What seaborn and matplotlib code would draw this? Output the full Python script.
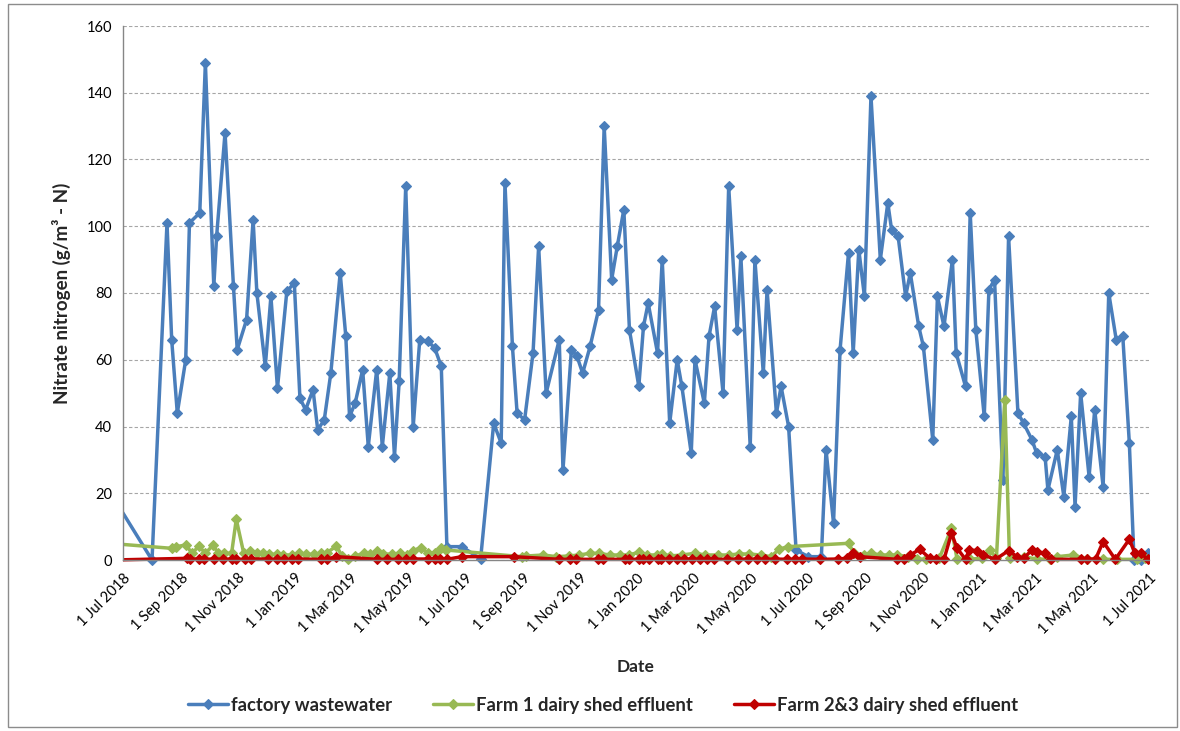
import pandas as pd
import matplotlib
matplotlib.use("Agg")
import matplotlib.pyplot as plt
from matplotlib.patches import Rectangle
import seaborn as sns

# sampling dates and nitrate values (g/m3 - N)
factory_dates = [
    "2018-06-19", "2018-08-01", "2018-08-17", "2018-08-22", "2018-08-28", "2018-09-06", "2018-09-10",
    "2018-09-21", "2018-09-27", "2018-10-06", "2018-10-09", "2018-10-18", "2018-10-27", "2018-10-31",
    "2018-11-10", "2018-11-17", "2018-11-21", "2018-11-30", "2018-12-06", "2018-12-13", "2018-12-23",
    "2018-12-31", "2019-01-06", "2019-01-12", "2019-01-20", "2019-01-25", "2019-02-01", "2019-02-08",
    "2019-02-18", "2019-02-24", "2019-02-28", "2019-03-06", "2019-03-14", "2019-03-20", "2019-03-29",
    "2019-04-04", "2019-04-12", "2019-04-17", "2019-04-22", "2019-04-29", "2019-05-07", "2019-05-14",
    "2019-05-23", "2019-05-30", "2019-06-06", "2019-06-12", "2019-06-28", "2019-07-18", "2019-08-01",
    "2019-08-09", "2019-08-13", "2019-08-21", "2019-08-26", "2019-09-03", "2019-09-12", "2019-09-18",
    "2019-09-26", "2019-10-10", "2019-10-14", "2019-10-23", "2019-10-29", "2019-11-04", "2019-11-12",
    "2019-11-21", "2019-11-27", "2019-12-05", "2019-12-11", "2019-12-18", "2019-12-24", "2020-01-03",
    "2020-01-08", "2020-01-13", "2020-01-23", "2020-01-28", "2020-02-05", "2020-02-13", "2020-02-18",
    "2020-02-28", "2020-03-03", "2020-03-13", "2020-03-18", "2020-03-24", "2020-04-02", "2020-04-08",
    "2020-04-17", "2020-04-21", "2020-05-01", "2020-05-06", "2020-05-15", "2020-05-19", "2020-05-29",
    "2020-06-03", "2020-06-11", "2020-06-19", "2020-07-02", "2020-07-16", "2020-07-21", "2020-07-29",
    "2020-08-05", "2020-08-14", "2020-08-19", "2020-08-25", "2020-08-31", "2020-09-07", "2020-09-17",
    "2020-09-25", "2020-09-29", "2020-10-06", "2020-10-14", "2020-10-19", "2020-10-28", "2020-11-02",
    "2020-11-12", "2020-11-17", "2020-11-24", "2020-12-03", "2020-12-07", "2020-12-17", "2020-12-22",
    "2020-12-28", "2021-01-06", "2021-01-11", "2021-01-17", "2021-01-26", "2021-02-01", "2021-02-11",
    "2021-02-17", "2021-02-26", "2021-03-03", "2021-03-12", "2021-03-15", "2021-03-25", "2021-04-01",
    "2021-04-09", "2021-04-13", "2021-04-19", "2021-04-28", "2021-05-04", "2021-05-13", "2021-05-19",
    "2021-05-27", "2021-06-03", "2021-06-10", "2021-06-15", "2021-06-22", "2021-06-30",
]
factory_values = [
    19.5, 0, 101, 66, 44, 60, 101,
    104, 149, 82, 97, 128, 82, 63,
    72, 102, 80, 58, 79, 51.5, 80.5,
    83, 48.5, 45, 51, 39, 42, 56,
    86, 67, 43, 47, 57, 34, 57,
    34, 56, 31, 53.5, 112, 40, 66,
    65.5, 63.5, 58, 4, 4, 0.3, 41,
    35, 113, 64, 44, 42, 62, 94,
    50, 66, 27, 63, 61, 56, 64,
    75, 130, 84, 94, 105, 69, 52,
    70, 77, 62, 90, 41, 60, 52,
    32, 60, 47, 67, 76, 50, 112,
    69, 91, 34, 90, 56, 81, 44,
    52, 40, 3, 1, 1, 33, 11,
    63, 92, 62, 93, 79, 139, 90,
    107, 99, 97, 79, 86, 70, 64,
    36, 79, 70, 90, 62, 52, 104,
    69, 43, 81, 84, 24, 97, 44,
    41, 36, 32, 31, 21, 33, 19,
    43, 16, 50, 25, 45, 22, 80,
    66, 67, 35, 0, 0, 2,
]

farm1_dates = [
    "2018-06-16", "2018-08-22", "2018-08-27", "2018-09-06", "2018-09-13", "2018-09-20", "2018-09-27",
    "2018-10-05", "2018-10-11", "2018-10-17", "2018-10-25", "2018-10-30", "2018-11-07", "2018-11-14",
    "2018-11-21", "2018-11-28", "2018-12-04", "2018-12-12", "2018-12-19", "2018-12-28", "2019-01-05",
    "2019-01-13", "2019-01-21", "2019-01-28", "2019-02-04", "2019-02-14", "2019-02-20", "2019-02-26",
    "2019-03-06", "2019-03-15", "2019-03-22", "2019-03-29", "2019-04-05", "2019-04-14", "2019-04-23",
    "2019-04-30", "2019-05-07", "2019-05-15", "2019-05-23", "2019-05-30", "2019-06-06", "2019-06-11",
    "2019-08-31", "2019-09-05", "2019-09-23", "2019-10-07", "2019-10-20", "2019-10-31", "2019-11-12",
    "2019-11-21", "2019-12-03", "2019-12-14", "2019-12-23", "2020-01-03", "2020-01-12", "2020-01-22",
    "2020-01-28", "2020-02-05", "2020-02-18", "2020-03-03", "2020-03-14", "2020-03-28", "2020-04-08",
    "2020-04-19", "2020-04-30", "2020-05-12", "2020-05-23", "2020-06-01", "2020-06-10", "2020-08-14",
    "2020-08-20", "2020-08-31", "2020-09-07", "2020-09-17", "2020-09-26", "2020-10-05", "2020-10-17",
    "2020-10-26", "2020-11-05", "2020-11-19", "2020-12-02", "2020-12-08", "2020-12-22", "2021-01-04",
    "2021-01-12", "2021-01-19", "2021-01-28", "2021-02-02", "2021-02-17", "2021-03-03", "2021-03-17",
    "2021-03-25", "2021-04-11", "2021-04-26", "2021-05-13", "2021-05-28", "2021-06-18", "2021-06-27",
]
farm1_values = [
    5.0, 3.5, 4.0, 4.5, 2.0, 4.2, 2.0,
    4.4, 2.0, 2.0, 2.0, 12.2, 2.0, 2.8,
    2.0, 2.2, 1.7, 1.7, 1.5, 1.5, 2.0,
    1.7, 1.7, 2.0, 2.2, 4.2, 1.2, 0.2,
    1.2, 2.0, 1.7, 2.7, 1.7, 1.8, 2.0,
    1.5, 2.8, 3.7, 2.0, 2.2, 3.5, 3.0,
    1.0, 1.2, 1.5, 1.0, 1.2, 1.5, 2.0,
    2.0, 1.5, 1.5, 1.5, 2.3, 1.5, 1.5,
    1.8, 1.2, 1.5, 2.0, 1.5, 1.5, 1.5,
    1.8, 1.8, 1.5, 1.0, 3.2, 4.0, 5.0,
    2.0, 1.5, 2.0, 1.5, 1.5, 1.5, 1.0,
    0.2, 0.3, 0.5, 9.5, 0.2, 0.3, 0.5,
    3.0, 0.5, 48, 0.5, 1.0, 0.3, 0.2,
    1.0, 1.5, 0.3, 0.2, 0.2, 0.2, 0.5,
]

farm23_dates = [
    "2018-06-21", "2018-09-07", "2018-09-11", "2018-09-20", "2018-09-26", "2018-10-06", "2018-10-16",
    "2018-10-25", "2018-10-30", "2018-11-08", "2018-11-15", "2018-12-03", "2018-12-12", "2018-12-20",
    "2018-12-28", "2019-01-04", "2019-01-28", "2019-02-04", "2019-02-14", "2019-03-29", "2019-04-09",
    "2019-04-21", "2019-04-29", "2019-05-07", "2019-05-23", "2019-05-30", "2019-06-05", "2019-06-12",
    "2019-06-28", "2019-08-23", "2019-10-10", "2019-10-22", "2019-10-28", "2019-11-20", "2019-11-26",
    "2019-12-19", "2019-12-24", "2020-01-03", "2020-01-08", "2020-01-14", "2020-01-23", "2020-01-27",
    "2020-02-04", "2020-02-13", "2020-02-20", "2020-02-29", "2020-03-08", "2020-03-16", "2020-03-23",
    "2020-04-06", "2020-04-18", "2020-04-29", "2020-05-08", "2020-05-17", "2020-05-28", "2020-06-09",
    "2020-06-18", "2020-06-25", "2020-07-15", "2020-08-03", "2020-08-12", "2020-08-19", "2020-08-26",
    "2020-10-05", "2020-10-12", "2020-10-19", "2020-10-29", "2020-11-09", "2020-11-16", "2020-11-24",
    "2020-12-02", "2020-12-08", "2020-12-17", "2020-12-21", "2020-12-29", "2021-01-05", "2021-01-18",
    "2021-02-01", "2021-02-10", "2021-02-17", "2021-02-26", "2021-03-03", "2021-03-12", "2021-03-18",
    "2021-04-19", "2021-04-26", "2021-05-05", "2021-05-13", "2021-05-26", "2021-06-10", "2021-06-16",
    "2021-06-22", "2021-06-30",
]
farm23_values = [
    0, 0.5, 0.3, 0.3, 0.2, 0.3, 0.2,
    0.3, 0.2, 0.2, 0.3, 0.3, 0.2, 0.2,
    0.2, 0.3, 0.2, 0.3, 1.0, 0.2, 0.2,
    0.2, 0.2, 0.3, 0.3, 0.3, 0.3, 0.2,
    1.0, 1.0, 0.2, 0.2, 0.2, 0.2, 0.2,
    0.2, 0.2, 0.2, 0.2, 0.3, 0.2, 0.2,
    0.3, 0.2, 0.2, 0.3, 0.2, 0.3, 0.2,
    0.2, 0.3, 0.2, 0.3, 0.2, 0.3, 0.2,
    0.2, 0.3, 0.2, 0.3, 0.5, 2.2, 1.0,
    0.2, 0.3, 1.5, 3.2, 0.5, 0.2, 0.2,
    8.0, 3.5, 0.2, 3.0, 2.8, 1.5, 0.2,
    2.8, 1.0, 0.5, 3.0, 2.5, 2.0, 0.2,
    0.2, 0.2, 0.3, 5.5, 0.2, 6.2, 2.0,
    2.0, 0.2,
]

series_names = ["factory wastewater", "Farm 1 dairy shed effluent", "Farm 2&3 dairy shed effluent"]
series_colors = ["#4A7EBB", "#98B954", "#C00000"]

x_start, x_end = "2018-07-01", "2021-07-01"
x_tick_dates = pd.date_range(x_start, x_end, freq="2MS")
x_tick_labels = [f"{d.day} {d:%b %Y}" for d in x_tick_dates]
y_ticks = list(range(0, 161, 20))

sns.set_theme(style="white")
plt.rcParams["font.family"] = ["Lato", "DejaVu Sans"]

fig = plt.figure(figsize=(11.8, 7.31), dpi=100)
ax = fig.add_axes([123 / 1180, 1 - 560 / 731, (1149 - 123) / 1180, (560 - 26) / 731])

all_data = [(factory_dates, factory_values), (farm1_dates, farm1_values), (farm23_dates, farm23_values)]
for name, color, (dates, values) in zip(series_names, series_colors, all_data):
    df = pd.DataFrame({"date": pd.to_datetime(dates), "value": values})
    sns.lineplot(data=df, x="date", y="value", ax=ax, color=color, label=name,
                 marker="D", markersize=5.5, markeredgecolor=color, markeredgewidth=0.8,
                 linewidth=2.5, estimator=None, sort=False)

# clip lines at the date range only, so markers on the zero line stay whole
for line in ax.lines:
    line.set_clip_path(Rectangle((0, -0.03), 1, 1.06, transform=ax.transAxes))

ax.set_xlim(pd.Timestamp(x_start), pd.Timestamp(x_end))
ax.set_ylim(0, 160)
ax.set_yticks(y_ticks)
ax.set_xticks(x_tick_dates)
ax.set_xticklabels(x_tick_labels, rotation=45, ha="right", rotation_mode="anchor")
ax.yaxis.grid(True, linestyle=(0, (3, 2)), color="#A6A6A6", linewidth=0.8)
ax.xaxis.grid(False)
ax.set_axisbelow(True)

for side in ["top", "right"]:
    ax.spines[side].set_visible(False)
for side in ["left", "bottom"]:
    ax.spines[side].set_color("#868686")
    ax.spines[side].set_linewidth(1)
ax.tick_params(axis="both", direction="out", length=4, width=1, color="#868686",
               labelsize=10.5, labelcolor="black", pad=4)

ax.set_xlabel("Date", fontsize=12.5, fontweight="bold")
ax.set_ylabel("Nitrate nitrogen (g/m³ - N)", fontsize=13.5, fontweight="bold")
ax.xaxis.set_label_coords(0.5, -0.185)
ax.yaxis.set_label_coords(-0.051, 0.5)

handles, labels = ax.get_legend_handles_labels()
ax.get_legend().remove()
fig.legend(handles, labels, loc="center", bbox_to_anchor=(0.511, 1 - 705 / 731), ncol=3,
           frameon=False, handlelength=2.2, handletextpad=0.15, columnspacing=2.2,
           prop={"weight": "bold", "size": 13.3})

fig.add_artist(Rectangle((8 / 1180, 4 / 731), (1177 - 8) / 1180, (727 - 4) / 731,
                         transform=fig.transFigure, fill=False, edgecolor="#8C8C8C", linewidth=1))

fig.savefig("out.png", dpi=100)
